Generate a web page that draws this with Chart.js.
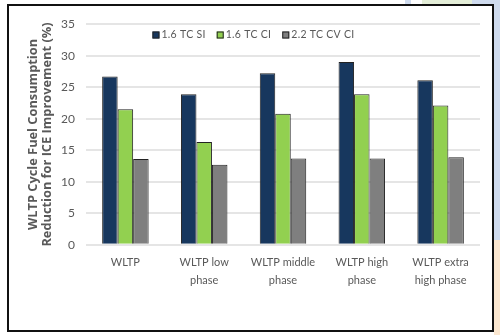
<!DOCTYPE html>
<html lang="en">
<head>
  <meta charset="UTF-8" />
  <title>WLTP Fuel Consumption Reduction</title>
  <script src="https://cdn.jsdelivr.net/npm/chart.js"></script>
  <style>
    body {
      margin: 0;
      background: #fff;
      width: 500px;
      height: 335px;
      position: relative;
      overflow: hidden;
    }
    .bg-right { position: absolute; left: 494px; top: 0; width: 6px; height: 240px; background: #cfdbee; }
    .bg-right2 { position: absolute; left: 494px; top: 240px; width: 6px; height: 95px; background: #fbe7d0; }
    .bg-top { position: absolute; left: 405px; top: 0; width: 6px; height: 5px; background: #cfdbee; }
    .bg-top2 { position: absolute; left: 422px; top: 0; width: 50px; height: 5px; background: #e4eed8; }
    .bg-top3 { position: absolute; left: 472px; top: 0; width: 28px; height: 5px; background: #cfdbee; }
    #box {
      position: absolute;
      left: 7px;
      top: 4px;
      width: 483px;
      height: 324px;
      border: 2px solid #111;
      background: #fff;
    }
  </style>
</head>
<body>
  <div class="bg-right"></div>
  <div class="bg-right2"></div>
  <div class="bg-top"></div>
  <div class="bg-top2"></div>
  <div class="bg-top3"></div>
  <div id="box"><canvas id="grafica" width="483" height="324"></canvas></div>
  <script>
    const categorias = [
      'WLTP',
      ['WLTP low', 'phase'],
      ['WLTP middle', 'phase'],
      ['WLTP high', 'phase'],
      ['WLTP extra', 'high phase']
    ];
    const series = ['1.6 TC SI', '1.6 TC CI', '2.2 TC CV CI'];
    const si16 = [26.7, 23.9, 27.2, 29.0, 26.1];
    const ci16 = [21.5, 16.3, 20.8, 23.9, 22.1];
    const cvci22 = [13.6, 12.7, 13.7, 13.7, 13.9];
    const colores = ['#17375e', '#92d050', '#7f7f7f'];
    const gris = '#595959';
    const fuente = 'Lato, sans-serif';

    // leyenda dibujada dentro del area del grafico, como en Excel
    const leyendaDentro = {
      id: 'leyendaDentro',
      afterDraw(chart) {
        const ctx = chart.ctx;
        ctx.save();
        ctx.font = '10.5px ' + fuente;
        ctx.letterSpacing = '0.3px';
        ctx.textBaseline = 'middle';
        const caja = 7, sep = 2, hueco = 11;
        const anchos = chart.data.datasets.map(d => caja + sep + ctx.measureText(d.label).width);
        const total = anchos.reduce((a, b) => a + b, 0) + hueco * (anchos.length - 1);
        let x = chart.width / 2 + 3 - total / 2;
        const y = 29;
        chart.data.datasets.forEach((d, i) => {
          ctx.fillStyle = d.backgroundColor;
          ctx.strokeStyle = '#222';
          ctx.lineWidth = 1;
          ctx.fillRect(x, y - caja / 2, caja, caja);
          ctx.strokeRect(x + 0.5, y - caja / 2 + 0.5, caja - 1, caja - 1);
          ctx.fillStyle = gris;
          ctx.fillText(d.label, x + caja + sep, y);
          x += anchos[i] + hueco;
        });
        ctx.restore();
      }
    };

    new Chart(document.getElementById('grafica'), {
      type: 'bar',
      data: {
        labels: categorias,
        datasets: [si16, ci16, cvci22].map((valores, i) => ({
          label: series[i],
          data: valores,
          backgroundColor: colores[i],
          borderColor: '#222',
          borderWidth: 1,
          categoryPercentage: 0.59,
          barPercentage: 1
        }))
      },
      options: {
        responsive: false,
        animation: false,
        layout: { padding: { top: 10, right: 12, bottom: 40, left: 17 } },
        plugins: {
          legend: { display: false },
          tooltip: { enabled: false }
        },
        scales: {
          x: {
            grid: { display: false },
            border: { display: false },
            ticks: {
              color: gris,
              font: { family: fuente, size: 11, lineHeight: 1.6 },
              padding: 1,
              maxRotation: 0
            }
          },
          y: {
            min: 0,
            max: 35,
            afterFit: escala => { escala.width = 60; },
            ticks: {
              stepSize: 5,
              color: gris,
              font: { family: fuente, size: 12 },
              padding: 11
            },
            grid: { color: '#e5e5e5', lineWidth: 2, drawTicks: false },
            border: { display: false },
            title: {
              display: true,
              text: ['WLTP Cycle Fuel Consumption', 'Reduction for ICE Improvement (%)'],
              color: gris,
              font: { family: '"Open Sans", sans-serif', size: 12.8, weight: 'bold', lineHeight: 1.1 },
              padding: { top: 0, bottom: 8 }
            }
          }
        }
      },
      plugins: [leyendaDentro]
    });
  </script>
</body>
</html>
